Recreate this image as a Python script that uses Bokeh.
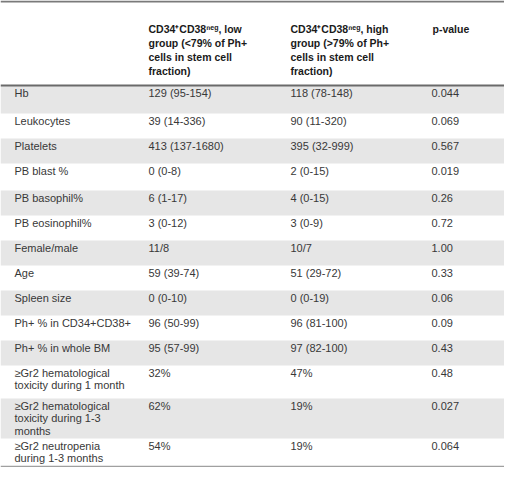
from bokeh.plotting import figure
from bokeh.models import ColumnDataSource, Range1d
from bokeh.core.properties import value
from bokeh.embed import file_html
from bokeh.resources import INLINE

# Table contents
col_headers = [
    "",
    "CD34\u207aCD38\u207f\u1d49\u1d4d, low\ngroup (<79% of Ph+\ncells in stem cell\nfraction)",
    "CD34\u207aCD38\u207f\u1d49\u1d4d, high\ngroup (>79% of Ph+\ncells in stem cell\nfraction)",
    "p-value",
]
row_labels = [
    "Hb", "Leukocytes", "Platelets", "PB blast %", "PB basophil%", "PB eosinophil%",
    "Female/male", "Age", "Spleen size", "Ph+ % in CD34+CD38+", "Ph+ % in whole BM",
    "\u2265Gr2 hematological\ntoxicity during 1 month",
    "\u2265Gr2 hematological\ntoxicity during 1-3\nmonths",
    "\u2265Gr2 neutropenia\nduring 1-3 months",
]
low_group = ["129 (95-154)", "39 (14-336)", "413 (137-1680)", "0 (0-8)", "6 (1-17)", "3 (0-12)",
             "11/8", "59 (39-74)", "0 (0-10)", "96 (50-99)", "95 (57-99)", "32%", "62%", "54%"]
high_group = ["118 (78-148)", "90 (11-320)", "395 (32-999)", "2 (0-15)", "4 (0-15)", "3 (0-9)",
              "10/7", "51 (29-72)", "0 (0-19)", "96 (81-100)", "97 (82-100)", "47%", "19%", "19%"]
p_values = ["0.044", "0.069", "0.567", "0.019", "0.26", "0.72", "1.00", "0.33", "0.06", "0.09",
            "0.43", "0.48", "0.027", "0.064"]

# Layout (pixels)
COL_X = [14, 148, 290, 431]
HEADER_LINE_Y = 85
ROW_HEIGHTS = [28, 25, 25, 27, 25, 25, 25, 25, 25, 25, 25, 33, 40, 29]
LINE_H = 12.5
HEAD_LINE_H = 14
FONT = "Liberation Sans"
W, H = 504, 467

p = figure(width=W, height=H, output_backend="svg", toolbar_location=None,
           x_range=Range1d(0, W), y_range=Range1d(H, 0), min_border=0)
p.axis.visible = False
p.grid.visible = False
p.outline_line_color = None
p.background_fill_color = "white"
p.border_fill_color = "white"

# row bands
tops, bottoms = [], []
y = HEADER_LINE_Y
for h in ROW_HEIGHTS:
    tops.append(y)
    bottoms.append(y + h)
    y += h
band_src = ColumnDataSource(dict(top=tops[::2], bottom=bottoms[::2]))
p.quad(left=0, right=520, top="top", bottom="bottom", source=band_src,
       fill_color="#e6e6e6", line_color=None)

# body cells
xs, ys, texts = [], [], []
for i, cells in enumerate(zip(row_labels, low_group, high_group, p_values)):
    for c, cell in enumerate(cells):
        for k, line in enumerate(cell.split("\n")):
            xs.append(COL_X[c])
            ys.append(tops[i] + 7 + k * LINE_H)
            texts.append(line)
p.text(x=xs, y=ys, text=texts, text_font=value(FONT), text_font_size="11px",
       text_color="#383838", text_baseline="middle", text_align="left")

# header cells
hx, hy, ht = [], [], []
for c, cell in enumerate(col_headers):
    for k, line in enumerate(cell.split("\n")):
        if line:
            hx.append(COL_X[c] + (1 if c == 3 else 0))
            hy.append(28 + k * HEAD_LINE_H)
            ht.append(line)
p.text(x=hx, y=hy, text=ht, text_font=value(FONT), text_font_size="10.5px",
       text_font_style="bold", text_color="#1a1a1a", text_baseline="middle",
       text_align="left")

# rules
p.segment(x0=[0], x1=[520], y0=[1], y1=[1], line_color="#7a7a7a", line_width=2)
p.segment(x0=[0], x1=[520], y0=[HEADER_LINE_Y], y1=[HEADER_LINE_Y],
          line_color="#6a6a6a", line_width=2)
p.segment(x0=[0], x1=[520], y0=[bottoms[-1] - 1], y1=[bottoms[-1] - 1],
          line_color="#a0a0a0", line_width=1.5)

open("out.html", "w").write(file_html(p, INLINE))
